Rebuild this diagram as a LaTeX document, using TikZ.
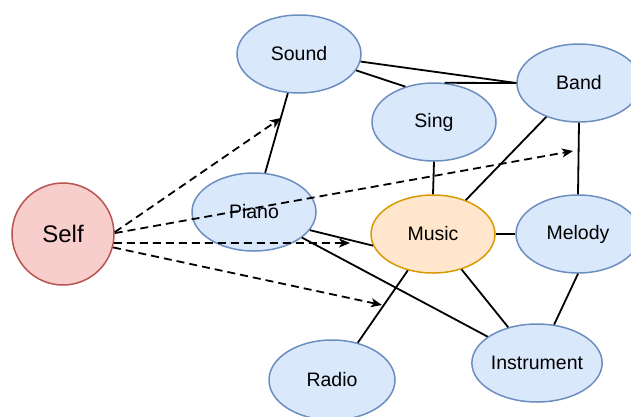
\documentclass[tikz,border=0pt]{standalone}
\usepackage{fontspec}
\setmainfont{Liberation Sans}
\usetikzlibrary{shapes.geometric,arrows.meta}
\definecolor{bfill}{HTML}{DAE8FC}
\definecolor{bline}{HTML}{6C8EBF}
\definecolor{ofill}{HTML}{FFE6CC}
\definecolor{oline}{HTML}{D79B00}
\definecolor{rfill}{HTML}{F8CECC}
\definecolor{rline}{HTML}{B85450}
\begin{document}
\begin{tikzpicture}[x=1pt,y=-1pt,
  concept/.style={ellipse, draw=bline, fill=bfill, line width=1.5pt,
    minimum width=124pt, minimum height=78pt, inner sep=0pt,
    font=\fontsize{19.5}{22}\selectfont},
  central/.style={concept, draw=oline, fill=ofill},
  selfnode/.style={circle, draw=rline, fill=rfill, line width=1.5pt,
    minimum size=102pt, inner sep=0pt, font=\fontsize{24}{28}\selectfont},
  link/.style={line width=1.8pt},
  assoc/.style={line width=1.8pt, dash pattern=on 8pt off 5pt,
    -{Stealth[length=11pt,width=9pt,inset=3pt]}}]
\useasboundingbox (0,0) rectangle (631,416);
\node[selfnode] (self) at (63,234) {Self};
\node[concept] (sound) at (299,54) {Sound};
\node[concept] (band) at (579,83) {Band};
\node[concept] (sing) at (434,122) {Sing};
\node[concept] (piano) at (254,212) {Piano};
\node[central] (music) at (433,234) {Music};
\node[concept] (melody) at (578,234) {Melody};
\node[concept] (instr) at (537,363) {Instrument};
\node[concept, minimum width=126pt, minimum height=80pt] (radio) at (332,380) {Radio};
\coordinate (e1) at (281,118);
\coordinate (e2) at (573,151);
\coordinate (e3) at (350,243);
\coordinate (e4) at (382,305);
\draw[link] (piano) -- (sound);
\draw[link] (sound.-16) -- (sing.129);
\draw[link] (sound.-7) -- (band.west);
\draw[link] (sing.75) -- (band.west);
\draw[link] (sing.south) -- (music.north);
\draw[link] (music) -- (band);
\draw[link] (band.south) -- (melody.north);
\draw[link] (music) -- (melody);
\draw[link] (music) -- (instr);
\draw[link] (melody.south) -- (instr.66);
\draw[link] (piano.-18) -- (music.191);
\draw[link] (piano) -- (instr);
\draw[link] (music) -- (radio);
\draw[assoc] (self.2) -- (e1);
\draw[assoc] (self.1) -- (e2);
\draw[assoc] (self.-10) -- (e3);
\draw[assoc] (self.-15) -- (e4);
\end{tikzpicture}
\end{document}
